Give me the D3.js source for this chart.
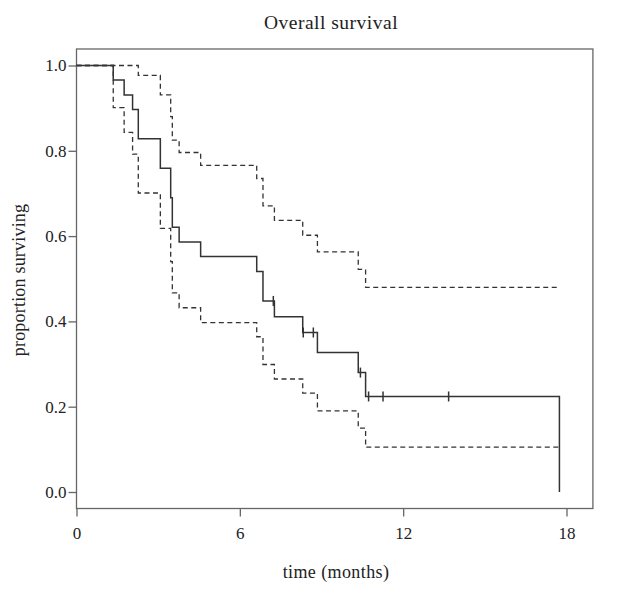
<!DOCTYPE html>
<html>
<head>
<meta charset="utf-8">
<script src="https://cdn.jsdelivr.net/npm/d3@7"></script>
<style>
  html, body { margin: 0; padding: 0; background: #fff; }
  svg { display: block; }
  text { font-family: "Liberation Serif", "DejaVu Serif", serif; fill: #222; }
</style>
</head>
<body>
<svg id="chart" width="622" height="593"></svg>
<script>
// ---- data (Kaplan-Meier estimate with 95% CI) ----
const eventTimes = [1.35, 1.75, 2.06, 2.27, 3.08, 3.46, 3.52, 3.77, 4.56, 6.62, 6.85, 7.27, 8.31, 8.85, 10.35, 10.62, 17.74];
const survival   = [0.966, 0.931, 0.897, 0.828, 0.759, 0.690, 0.621, 0.586, 0.552, 0.517, 0.448, 0.411, 0.374, 0.327, 0.280, 0.224, 0.0];
const upperCI    = [1.0, 1.0, 1.0, 0.977, 0.931, 0.880, 0.825, 0.796, 0.766, 0.735, 0.671, 0.637, 0.602, 0.563, 0.522, 0.480, 0.480];
const lowerCI    = [0.901, 0.843, 0.792, 0.701, 0.618, 0.540, 0.467, 0.432, 0.397, 0.364, 0.299, 0.265, 0.232, 0.190, 0.150, 0.105, 0.105];
const censorTimes = [7.23, 8.33, 8.70, 10.43, 10.73, 11.26, 13.67];
const xTicks = [0, 6, 12, 18];
const yTicks = [0.0, 0.2, 0.4, 0.6, 0.8, 1.0];
const titleText = "Overall survival";
const xLabel = "time (months)";
const yLabel = "proportion surviving";

// ---- layout ----
const svg = d3.select("#chart");
const x = d3.scaleLinear().domain([0, 18]).range([76.5, 566.5]);
const y = d3.scaleLinear().domain([0, 1]).range([492, 65.5]);
const xBox = [0, 18.97];
const yBox = [-0.0387, 1.0387];

svg.append("rect").attr("width", 622).attr("height", 593).attr("fill", "#fff");

// plot box
svg.append("rect")
  .attr("x", x(xBox[0])).attr("y", y(yBox[1]))
  .attr("width", x(xBox[1]) - x(xBox[0]))
  .attr("height", y(yBox[0]) - y(yBox[1]))
  .attr("fill", "none").attr("stroke", "#666").attr("stroke-width", 1.3);

// axes
const xAxis = d3.axisBottom(x).tickValues(xTicks).tickFormat(d3.format("d")).tickSize(8).tickPadding(10);
const gx = svg.append("g").attr("transform", `translate(0,${y(yBox[0])})`).call(xAxis);
gx.select(".domain").remove();
gx.selectAll("line").attr("stroke", "#666").attr("stroke-width", 1.3);
gx.selectAll("text").attr("font-size", 17).attr("fill", "#222")
  .style("font-family", '"Liberation Serif", serif');

const yAxis = d3.axisLeft(y).tickValues(yTicks).tickFormat(d3.format(".1f")).tickSize(8).tickPadding(2);
const gy = svg.append("g").attr("transform", `translate(${x(xBox[0])},0)`).call(yAxis);
gy.select(".domain").remove();
gy.selectAll("line").attr("stroke", "#666").attr("stroke-width", 1.3);
gy.selectAll("text").attr("font-size", 17).attr("fill", "#222")
  .style("font-family", '"Liberation Serif", serif');

// step curves
const step = d3.line().x(d => x(d[0])).y(d => y(d[1])).curve(d3.curveStepAfter);
function pts(vals, start) {
  const p = [[0, start]];
  eventTimes.forEach((t, i) => p.push([t, vals[i]]));
  return p;
}
svg.append("path").attr("d", step(pts(upperCI, 1)))
  .attr("fill", "none").attr("stroke", "#333").attr("stroke-width", 1.3).attr("stroke-dasharray", "5,3.5");
svg.append("path").attr("d", step(pts(lowerCI, 1)))
  .attr("fill", "none").attr("stroke", "#333").attr("stroke-width", 1.3).attr("stroke-dasharray", "5,3.5");
svg.append("path").attr("d", step(pts(survival, 1)))
  .attr("fill", "none").attr("stroke", "#333").attr("stroke-width", 1.5);

// censor marks
function survAt(t) {
  let s = 1;
  eventTimes.forEach((et, i) => { if (et <= t) s = survival[i]; });
  return s;
}
svg.selectAll("line.censor").data(censorTimes).enter().append("line")
  .attr("class", "censor")
  .attr("x1", d => x(d)).attr("x2", d => x(d))
  .attr("y1", d => y(survAt(d)) - 5).attr("y2", d => y(survAt(d)) + 5)
  .attr("stroke", "#333").attr("stroke-width", 1.5);

// labels
svg.append("text").attr("x", 331).attr("y", 29).attr("text-anchor", "middle")
  .attr("font-size", 19.5).attr("letter-spacing", 0.5).text(titleText);
svg.append("text").attr("x", 336).attr("y", 578).attr("text-anchor", "middle")
  .attr("font-size", 18).attr("letter-spacing", 0.4).text(xLabel);
svg.append("text").attr("transform", "translate(25,280) rotate(-90)").attr("text-anchor", "middle")
  .attr("font-size", 18).attr("letter-spacing", 0.2).text(yLabel);
</script>
</body>
</html>
